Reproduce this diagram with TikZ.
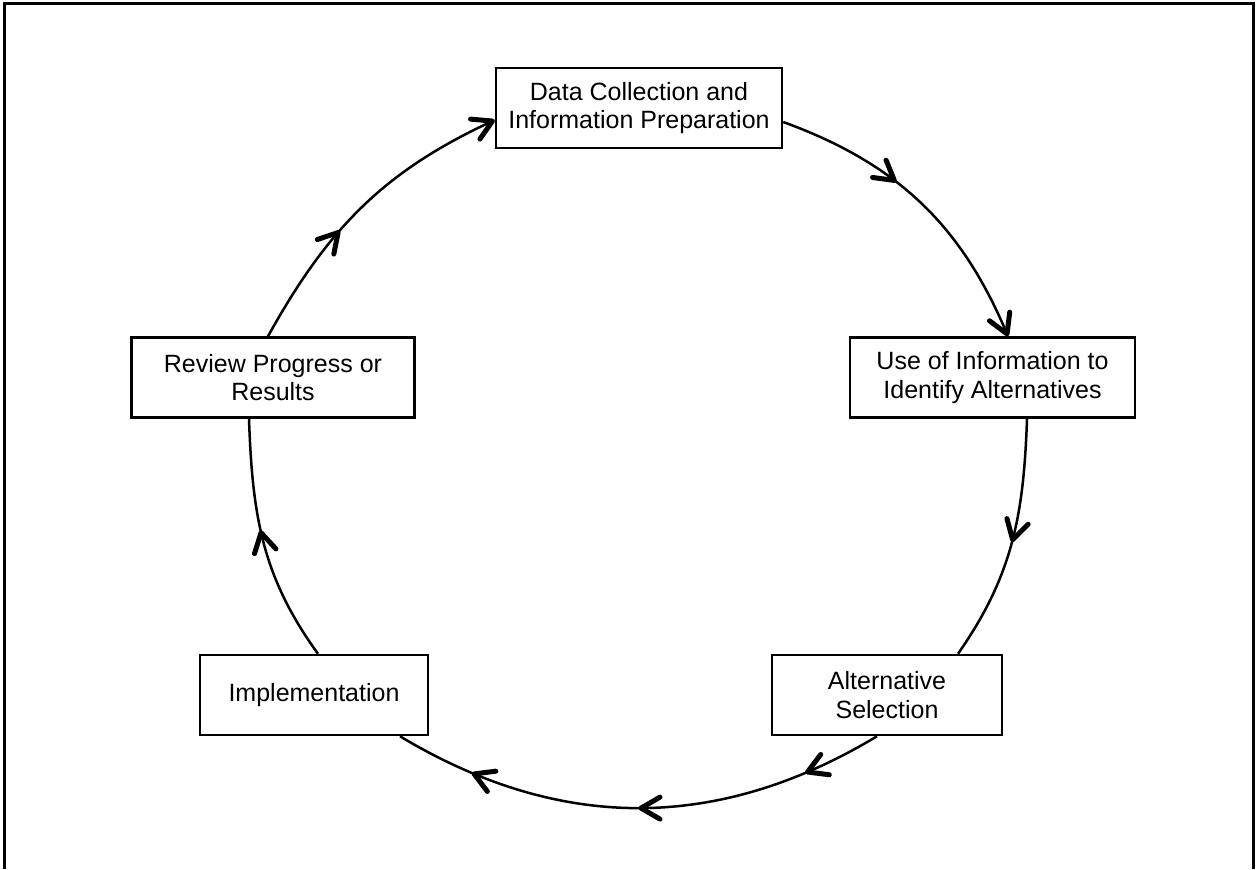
\documentclass[tikz,border=0pt]{standalone}
\usepackage{fontspec}
\setmainfont{Liberation Sans}
\usetikzlibrary{arrows.meta,decorations.markings}

\begin{document}
\begin{tikzpicture}[x=0.5pt, y=-0.5pt,
    chevron/.tip={Straight Barb[length=9.5pt, width=11pt, line width=2.5pt, round]},
    stage/.style={draw=lineColour, line width=1.25pt, align=center, inner sep=0pt,
        minimum height=40pt, minimum width=#1, font=\fontsize{12.5}{14.2}\selectfont},
    flow/.style={draw=lineColour, line width=1.25pt},
    midarrow/.style={postaction={decorate, decoration={markings,
        mark=at position #1 with {\arrow{chevron}}}}}]
    \definecolor{lineColour}{HTML}{000000}

    \useasboundingbox (0,0) rectangle (1256,869);

    % Outer frame (open at the bottom)
    \draw[line width=1.5pt] (4.5,869) -- (4.5,3.5) -- (1253,3.5) -- (1253,869);

    % Stages of the cycle
    \node[stage=143pt] (collect) at (639,108) {Data Collection and\\Information Preparation};
    \node[stage=142.5pt] (identify) at (992.5,377.5) {Use of Information to\\Identify Alternatives};
    \node[stage=115pt] (select) at (887,695) {Alternative\\Selection};
    \node[stage=114pt] (implement) at (314,695) {Implementation};
    \node[stage=141.5pt] (review) at (273,377.5) {Review Progress or\\Results};

    % Connectors
    \draw[flow, -chevron, midarrow=0.4] (review.north -| 268,0) to[out=61, in=205] (collect.west |- 0,120);
    \draw[flow, -chevron, midarrow=0.4] (collect.east |- 0,122) to[out=-20, in=113] (identify.north -| 1008,0);
    \draw[flow, midarrow=0.5] (identify.south -| 1027,0) to[out=-92, in=55] (select.north -| 958,0);
    \draw[flow, midarrow=0.16, midarrow=0.5, midarrow=0.84] (select.south -| 877,0) to[out=211, in=-31] (implement.south -| 400,0);
    \draw[flow, midarrow=0.55] (implement.north -| 318,0) to[out=126, in=-88] (review.south -| 249,0);

\end{tikzpicture}
\end{document}
